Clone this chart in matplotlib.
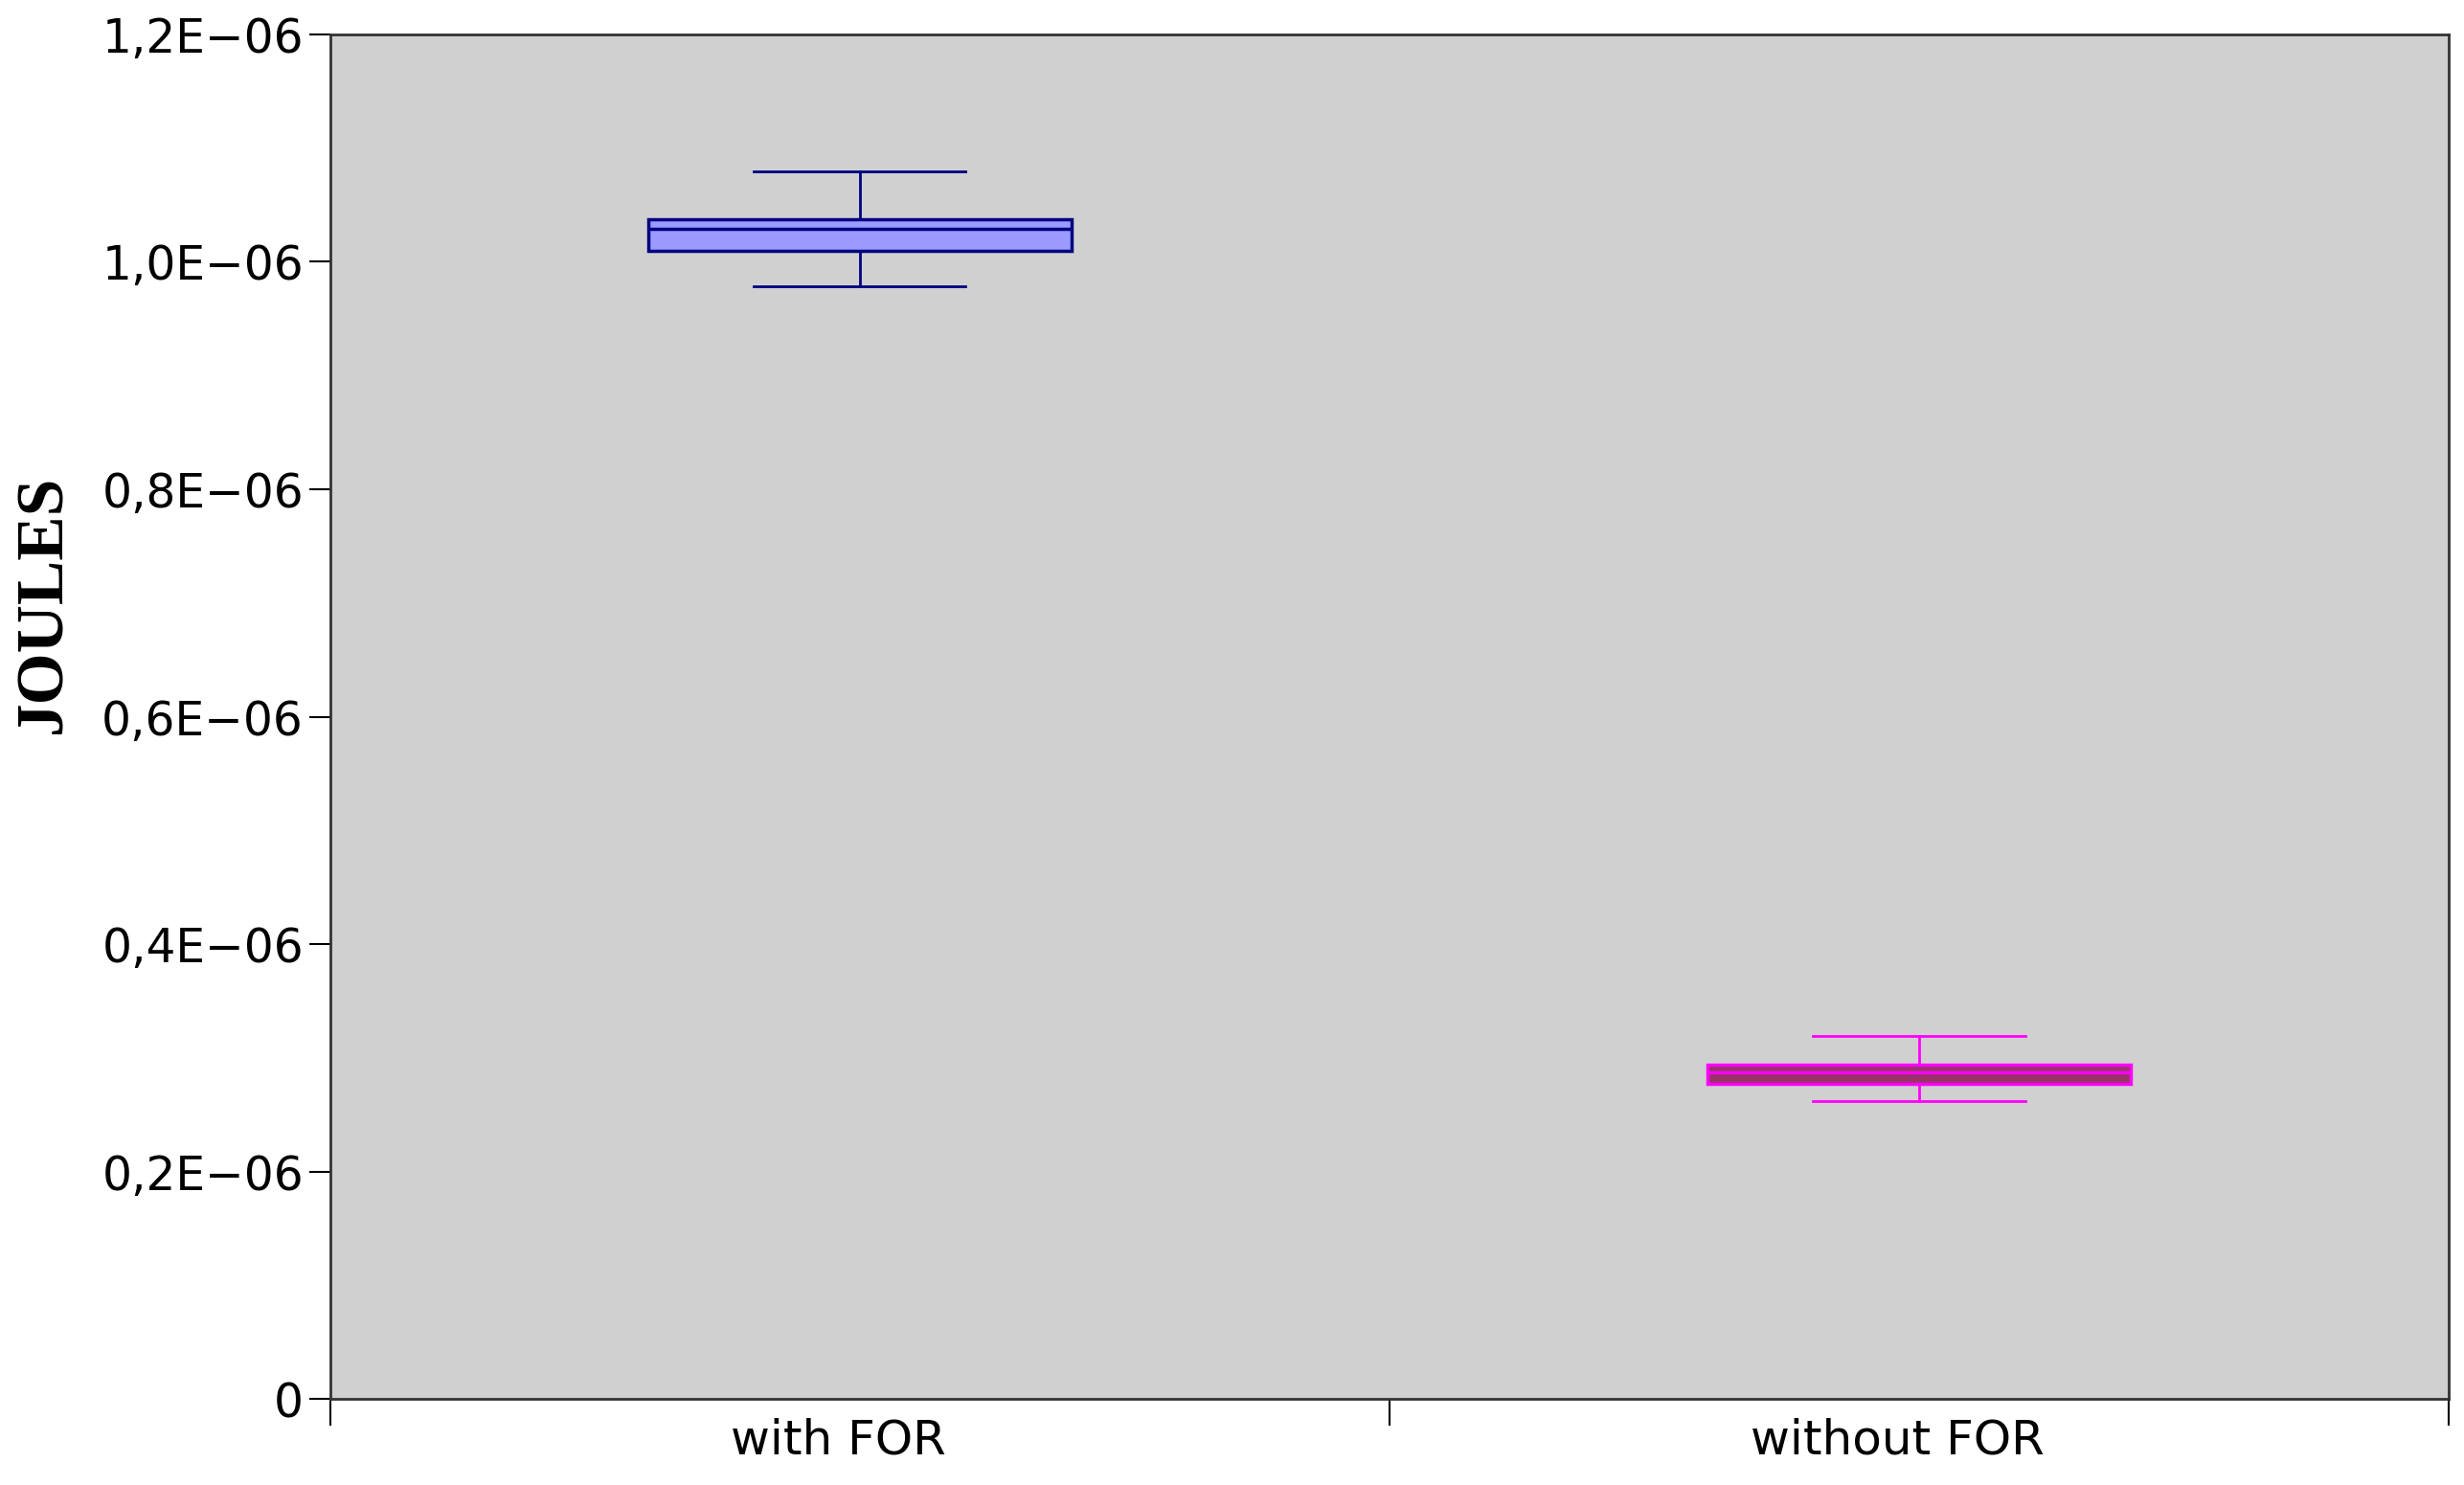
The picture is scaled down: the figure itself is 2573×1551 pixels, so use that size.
import matplotlib
matplotlib.use("Agg")
import matplotlib.pyplot as plt
from matplotlib.ticker import FuncFormatter, FixedLocator

# --- data ---
categories = ["with FOR", "without FOR"]
whislo = [0.9785e-6, 0.2622e-6]
q1 = [1.0097e-6, 0.2771e-6]
med = [1.029e-6, 0.2872e-6]
q3 = [1.0375e-6, 0.2939e-6]
whishi = [1.0798e-6, 0.3194e-6]
face_colors = ["#9b9bff", "#993366"]
edge_colors = ["#000080", "#ff00ff"]

fig = plt.figure(figsize=(25.73, 15.51), dpi=100)
ax = fig.add_axes([0.134, 0.058, 0.8598, 0.9188])
ax.set_facecolor("#d0d0d0")

stats = []
for i, name in enumerate(categories):
    stats.append(dict(label=name, whislo=whislo[i], q1=q1[i], med=med[i],
                      q3=q3[i], whishi=whishi[i], fliers=[]))

for i, s in enumerate(stats):
    ec = edge_colors[i]
    ax.bxp([s], positions=[i + 1], widths=0.4, patch_artist=True,
           showfliers=False, capwidths=0.2,
           boxprops=dict(facecolor=face_colors[i], edgecolor=ec, linewidth=2.5),
           medianprops=dict(color=ec, linewidth=2.5),
           whiskerprops=dict(color=ec, linewidth=2),
           capprops=dict(color=ec, linewidth=2))

ax.set_xlim(0.5, 2.5)
ax.set_ylim(0, 1.2e-6)

# ticks at category boundaries, labels at centres
ax.xaxis.set_major_locator(FixedLocator([0.5, 1.5, 2.5]))
ax.xaxis.set_major_formatter(FuncFormatter(lambda x, pos: ""))
ax.xaxis.set_minor_locator(FixedLocator([0.98, 1.98]))
ax.set_xticklabels(categories, minor=True)
ax.tick_params(axis="x", which="minor", length=0, labelsize=36, pad=14)
ax.tick_params(axis="x", which="major", length=20, width=1.5, direction="out")

def yfmt(v, pos):
    if abs(v) < 1e-12:
        return "0"
    return ("%.1fE\u221206" % (v * 1e6)).replace(".", ",")

ax.yaxis.set_major_locator(FixedLocator([0, 0.2e-6, 0.4e-6, 0.6e-6, 0.8e-6, 1.0e-6, 1.2e-6]))
ax.yaxis.set_major_formatter(FuncFormatter(yfmt))
ax.tick_params(axis="y", length=16, width=1.5, direction="out", labelsize=35, pad=4)

for sp in ax.spines.values():
    sp.set_linewidth(2)
    sp.set_color("#333333")

fig.text(0.018, 0.593, "JOULES", rotation=90, fontsize=50, fontweight="bold",
         family="Liberation Serif", va="center", ha="center")

fig.savefig("out.png", dpi=100)
